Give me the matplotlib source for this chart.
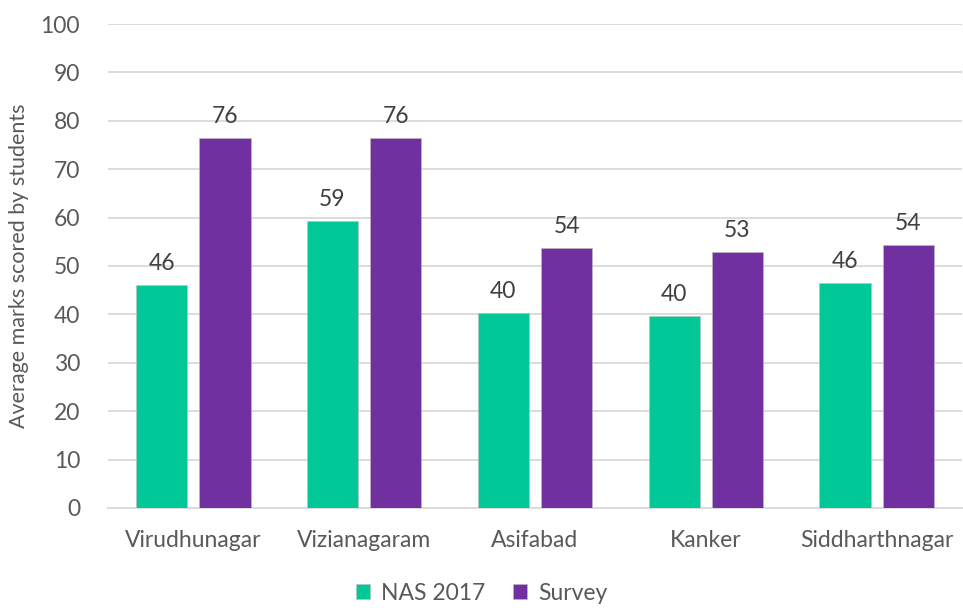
import numpy as np
import matplotlib.pyplot as plt

plt.rcParams['font.family'] = ['Lato', 'DejaVu Sans']

districts = ['Virudhunagar', 'Vizianagaram', 'Asifabad', 'Kanker', 'Siddharthnagar']
nas_2017 = [46.1, 59.3, 40.3, 39.7, 46.4]
survey = [76.4, 76.4, 53.7, 52.8, 54.3]

green = '#00C896'
purple = '#7030A0'
text_col = '#595959'
fs = 16.5

fig = plt.figure(figsize=(9.63, 6.08), dpi=100)
ax = fig.add_axes([0.112, 0.1645, 0.887, 0.796])

x = np.arange(len(districts))
w = 0.30
off = 0.185
b1 = ax.bar(x - off, nas_2017, w, color=green, label='NAS 2017', zorder=3,
            edgecolor='#bdbdbd', linewidth=0.4)
b2 = ax.bar(x + off, survey, w, color=purple, label='Survey', zorder=3,
            edgecolor='#bdbdbd', linewidth=0.4)

for bars in (b1, b2):
    for r in bars:
        ax.annotate('%.0f' % r.get_height(), (r.get_x() + r.get_width() / 2, r.get_height()),
                    xytext=(0, 8), textcoords='offset points', ha='center', va='bottom',
                    fontsize=fs, color='#404040')

ax.set_xlim(-0.5, len(districts) - 0.5)
ax.set_ylim(0, 100)
ax.set_yticks(range(0, 101, 10))
ax.set_xticks(x)
ax.set_xticklabels(districts, fontsize=17)
ax.tick_params(axis='both', length=0, labelsize=fs, colors=text_col)
ax.tick_params(axis='y', pad=20)
ax.tick_params(axis='x', pad=16)
ax.grid(axis='y', color='#d9d9d9', linewidth=1.3, zorder=0)
for s in ['top', 'right', 'left']:
    ax.spines[s].set_visible(False)
ax.spines['bottom'].set_color('#d9d9d9')
ax.spines['bottom'].set_linewidth(1.3)

ax.set_ylabel('Average marks scored by students', fontsize=15.5, color=text_col, labelpad=8)

fig.legend(handles=[b1, b2], loc='center', bbox_to_anchor=(0.5, 1 - 593 / 608), ncol=2,
           frameon=False, fontsize=fs, labelcolor=text_col, handlelength=0.6,
           handleheight=0.6, handletextpad=0.5, columnspacing=1.2)

fig.savefig('out.png', dpi=100)
